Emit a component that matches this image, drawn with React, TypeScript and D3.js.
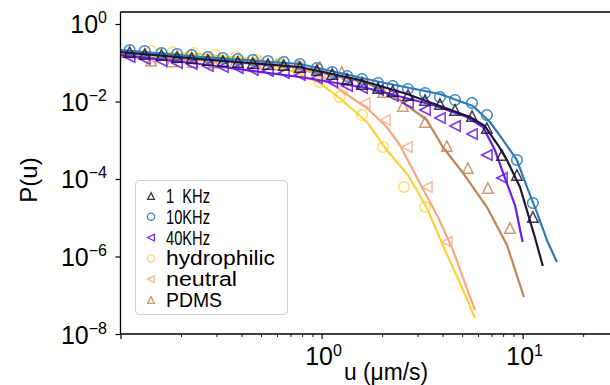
import { useEffect, useRef } from "react";
import * as d3 from "d3";

// ---- data (u in μm/s, P(u)) ----
const labels = ["1  KHz", "10KHz", "40KHz", "hydrophilic", "neutral", "PDMS"];

const u1k = [0.111, 0.132, 0.160, 0.191, 0.226, 0.272, 0.323, 0.383, 0.455, 0.541, 0.649, 0.780, 0.948, 1.13, 1.34, 1.59, 1.91, 2.26, 2.69, 3.27, 3.88, 4.61, 5.60, 6.64, 7.89, 9.37, 11.25];
const p1k = [0.189, 0.168, 0.159, 0.141, 0.133, 0.118, 0.111, 0.105, 0.0985, 0.0928, 0.0875, 0.0777, 0.065, 0.0513, 0.0381, 0.0283, 0.0223, 0.0187, 0.0147, 0.0109, 0.00862, 0.00604, 0.00422, 0.00207, 0.000416, 0.000127, 0.0000105];

const u10k = [0.111, 0.132, 0.160, 0.191, 0.226, 0.272, 0.323, 0.383, 0.455, 0.541, 0.649, 0.780, 0.948, 1.13, 1.34, 1.59, 1.91, 2.26, 2.69, 3.27, 3.88, 4.61, 5.60, 6.64, 9.37, 11.25];
const p10k = [0.213, 0.201, 0.179, 0.168, 0.159, 0.141, 0.133, 0.125, 0.118, 0.111, 0.105, 0.0928, 0.0732, 0.0577, 0.0455, 0.0381, 0.0300, 0.0251, 0.0210, 0.0166, 0.0131, 0.0109, 0.00915, 0.00448, 0.000309, 0.000024];

const u40k = [0.111, 0.132, 0.160, 0.191, 0.226, 0.272, 0.323, 0.383, 0.455, 0.541, 0.649, 0.780, 0.948, 1.13, 1.34, 1.59, 1.91, 2.26, 2.69, 3.27, 3.88, 4.61, 5.60, 6.64, 7.89];
const p40k = [0.141, 0.125, 0.111, 0.0985, 0.0928, 0.0824, 0.0777, 0.0732, 0.065, 0.0612, 0.0544, 0.0483, 0.0404, 0.0319, 0.0251, 0.0223, 0.0198, 0.0139, 0.00915, 0.00604, 0.00375, 0.00233, 0.00145, 0.000416, 0.000106];

const uHydro = [0.143, 0.182, 0.232, 0.295, 0.375, 0.477, 0.606, 0.771, 0.981, 1.23, 1.59, 2.02, 2.57, 3.27];
const pHydro = [0.201, 0.189, 0.179, 0.159, 0.141, 0.118, 0.0928, 0.0577, 0.0319, 0.0131, 0.00448, 0.000669, 0.0000622, 0.0000189];

const uNeutral = [0.142, 0.180, 0.229, 0.291, 0.370, 0.471, 0.599, 0.762, 0.981, 1.26, 1.64, 2.07, 2.66, 3.34, 4.20];
const pNeutral = [0.133, 0.133, 0.125, 0.118, 0.111, 0.105, 0.0928, 0.0777, 0.0483, 0.0223, 0.00915, 0.00333, 0.000669, 0.0000622, 0.00000237];

const uPdms = [0.142, 0.180, 0.229, 0.291, 0.370, 0.471, 0.599, 0.762, 0.981, 1.26, 1.59, 2.02, 2.54, 3.27, 4.20, 5.34, 6.72, 8.65];
const pPdms = [0.112, 0.108, 0.104, 0.101, 0.098, 0.095, 0.090, 0.083, 0.0777, 0.0577, 0.0319, 0.0176, 0.00766, 0.00296, 0.00071, 0.000192, 0.0000586, 0.00000544];

// fitted curves
const fit1kU = [0.100, 0.248, 0.780, 1.55, 2.66, 3.88, 5.47, 6.49, 7.54, 8.35, 9.70, 10.6, 11.5, 12.6];
const fit1kP = [0.189, 0.125, 0.0777, 0.0359, 0.0156, 0.00766, 0.00398, 0.00233, 0.000754, 0.000309, 0.0000622, 0.0000133, 0.00000318, 5.69e-7];

const fit10kU = [0.100, 0.248, 0.780, 1.95, 3.88, 5.66, 6.88, 7.98, 9.37, 10.5, 11.8, 13.2, 14.8];
const fit10kP = [0.213, 0.141, 0.0928, 0.0319, 0.0156, 0.00766, 0.00296, 0.00102, 0.000309, 0.0000622, 0.0000133, 0.00000267, 7.2e-7];

const fit40kU = [0.100, 0.248, 0.780, 1.68, 3.58, 5.28, 6.35, 7.28, 8.17, 9.16, 10.0];
const fit40kP = [0.159, 0.0928, 0.0429, 0.0223, 0.00812, 0.00398, 0.00220, 0.00056, 0.000106, 0.0000213, 0.00000237];

const fitHydroU = [0.100, 0.248, 0.493, 0.780, 0.981, 1.23, 1.68, 2.11, 2.69, 3.34, 4.11, 4.88, 5.79];
const fitHydroP = [0.189, 0.168, 0.118, 0.0513, 0.0300, 0.0123, 0.00296, 0.00056, 0.000127, 0.0000178, 0.00000147, 2.07e-7, 2.59e-8];

const fitNeutralU = [0.100, 0.312, 0.620, 0.981, 1.28, 1.68, 2.11, 2.45, 3.08, 3.79, 4.50, 5.79];
const fitNeutralP = [0.159, 0.133, 0.0985, 0.0483, 0.0176, 0.0068, 0.0022, 0.000754, 0.0000788, 0.0000105, 0.00000147, 4.16e-8];

const fitPdmsU = [0.100, 0.312, 0.780, 1.68, 2.45, 3.34, 4.01, 5.05, 6.64, 8.36, 10.15];
const fitPdmsP = [0.141, 0.111, 0.0732, 0.0300, 0.0109, 0.00333, 0.000669, 0.000143, 0.0000189, 0.00000198, 9.0e-8];

const xMajor = [0.1, 1, 10];
const xMinor = [0.2, 0.3, 0.4, 0.5, 0.6, 0.7, 0.8, 0.9, 2, 3, 4, 5, 6, 7, 8, 9, 20];
const xMajorExp = ["", "0", "1"];
const yMajor = [1, 1e-2, 1e-4, 1e-6, 1e-8];
const yMajorExp = ["0", "\u22122", "\u22124", "\u22126", "\u22128"];

// ---- styles ----
const COLORS = ["#1c1533", "#2b7bba", "#6a1ee6", "#ffd03c", "#f7a882", "#c3834f"];
const SHAPES = ["up", "circle", "left", "circle", "left", "up"];
const MARK_ALPHA = [0.85, 0.9, 0.9, 0.75, 0.75, 0.8];
const LEGEND_TEXT_W = [44, 44, 44, 109, 71, 56];
const FONT = "'Liberation Sans', Arial, sans-serif";

type Shape = string;

function markerPath(shape: Shape, cx: number, cy: number, r: number) {
  if (shape === "up") return `M${cx},${cy - r}L${cx + r},${cy + r}L${cx - r},${cy + r}Z`;
  if (shape === "left") return `M${cx - r},${cy}L${cx + r},${cy - r}L${cx + r},${cy + r}Z`;
  return d3.arc()({ innerRadius: 0, outerRadius: r, startAngle: 0, endAngle: 2 * Math.PI }) as string;
}

export default function App() {
  const svgRef = useRef<SVGSVGElement>(null);

  useEffect(() => {
    const svg = d3.select(svgRef.current);
    svg.selectAll("*").remove();

    const x = d3.scaleLog().domain([0.1, 27.2]).range([120.5, 610]);
    const y = d3.scaleLog().domain([1e-8, 2.04]).range([334, 12]);

    const series = [
      { u: u1k, p: p1k, fu: fit1kU, fp: fit1kP },
      { u: u10k, p: p10k, fu: fit10kU, fp: fit10kP },
      { u: u40k, p: p40k, fu: fit40kU, fp: fit40kP },
      { u: uHydro, p: pHydro, fu: fitHydroU, fp: fitHydroP },
      { u: uNeutral, p: pNeutral, fu: fitNeutralU, fp: fitNeutralP },
      { u: uPdms, p: pPdms, fu: fitPdmsU, fp: fitPdmsP },
    ];

    const line = d3.line<[number, number]>().x(d => x(d[0])).y(d => y(d[1]));
    const plot = svg.append("g");

    // draw back-to-front: PDMS first, 1 KHz last
    [5, 4, 3, 2, 1, 0].forEach(i => {
      const s = series[i];
      const pts = s.fu.map((u, k) => [u, s.fp[k]] as [number, number]);
      plot.append("path")
        .attr("d", line(pts))
        .attr("fill", "none")
        .attr("stroke", COLORS[i])
        .attr("stroke-width", 2.2)
        .attr("stroke-linejoin", "round");

      s.u.forEach((u, k) => {
        const cx = x(u), cy = y(s.p[k]);
        if (SHAPES[i] === "circle") {
          plot.append("circle")
            .attr("cx", cx).attr("cy", cy).attr("r", 5.3)
            .attr("fill", "none").attr("stroke", COLORS[i])
            .attr("stroke-width", 1.5).attr("stroke-opacity", MARK_ALPHA[i]);
        } else {
          plot.append("path")
            .attr("d", markerPath(SHAPES[i], cx, cy, 5.2))
            .attr("fill", "none").attr("stroke", COLORS[i])
            .attr("stroke-width", 1.5).attr("stroke-opacity", MARK_ALPHA[i])
            .attr("stroke-linejoin", "miter");
        }
      });
    });

    // spines
    const x0 = x(0.1);
    svg.append("line").attr("x1", x0).attr("x2", x0).attr("y1", 12).attr("y2", 334)
      .attr("stroke", "#000").attr("stroke-width", 1.3);
    svg.append("line").attr("x1", x0).attr("x2", 610).attr("y1", 12).attr("y2", 12)
      .attr("stroke", "#000").attr("stroke-width", 1.3);
    svg.append("line").attr("x1", x0).attr("x2", 610).attr("y1", 334).attr("y2", 334)
      .attr("stroke", "#000").attr("stroke-width", 1.3);

    // x ticks
    const xAx = svg.append("g").attr("transform", "translate(0,334)");
    xAx.call(d3.axisBottom(x).tickValues(xMajor).tickSize(5).tickFormat(() => ""))
      .call(a => a.select(".domain").remove())
      .call(a => a.selectAll(".tick line").attr("stroke", "#000").attr("stroke-width", 1.2));
    const xAxMin = svg.append("g").attr("transform", "translate(0,334)");
    xAxMin.call(d3.axisBottom(x).tickValues(xMinor).tickSize(3).tickFormat(() => ""))
      .call(a => a.select(".domain").remove())
      .call(a => a.selectAll(".tick line").attr("stroke", "#000").attr("stroke-width", 0.9));

    xMajor.forEach((v, i) => {
      if (!xMajorExp[i]) return;
      const t = svg.append("text")
        .attr("x", x(v) + 2).attr("y", 365)
        .attr("text-anchor", "middle")
        .attr("font-family", FONT).attr("font-size", 25).attr("fill", "#000");
      t.append("tspan").text("10");
      t.append("tspan").attr("dy", -9).attr("font-size", 16).text(xMajorExp[i]);
    });

    // y ticks
    const yAx = svg.append("g").attr("transform", `translate(${x0},0)`);
    yAx.call(d3.axisLeft(y).tickValues(yMajor).tickSize(5).tickFormat(() => ""))
      .call(a => a.select(".domain").remove())
      .call(a => a.selectAll(".tick line").attr("stroke", "#000").attr("stroke-width", 1.2));

    yMajor.forEach((v, i) => {
      const t = svg.append("text")
        .attr("x", 107).attr("y", y(v) + 9.5)
        .attr("text-anchor", "end")
        .attr("font-family", FONT).attr("font-size", 25).attr("fill", "#000");
      t.append("tspan").text("10");
      t.append("tspan").attr("dy", -10).attr("font-size", 16).text(yMajorExp[i]);
    });

    // axis titles
    svg.append("text")
      .attr("transform", "translate(37,180) rotate(-90)")
      .attr("text-anchor", "middle")
      .attr("font-family", FONT).attr("font-size", 24).attr("fill", "#000")
      .text("P(u)");
    svg.append("text")
      .attr("x", 386).attr("y", 380)
      .attr("text-anchor", "middle")
      .attr("font-family", FONT).attr("font-size", 23).attr("fill", "#000")
      .attr("textLength", 84).attr("lengthAdjust", "spacingAndGlyphs")
      .text("u (\u03bcm/s)");

    // legend
    const lg = svg.append("g");
    lg.append("rect")
      .attr("x", 135.5).attr("y", 180.5).attr("width", 152).attr("height", 134)
      .attr("rx", 4).attr("fill", "#fff").attr("fill-opacity", 0.8)
      .attr("stroke", "#cccccc").attr("stroke-width", 1);
    labels.forEach((name, i) => {
      const cy = 196 + i * 20.8;
      if (SHAPES[i] === "circle") {
        lg.append("circle").attr("cx", 151).attr("cy", cy).attr("r", 3.6)
          .attr("fill", "none").attr("stroke", COLORS[i]).attr("stroke-width", 1.3)
          .attr("stroke-opacity", MARK_ALPHA[i]);
      } else {
        lg.append("path").attr("d", markerPath(SHAPES[i], 151, cy, 3.4))
          .attr("fill", "none").attr("stroke", COLORS[i]).attr("stroke-width", 1.3)
          .attr("stroke-opacity", MARK_ALPHA[i]);
      }
      lg.append("text")
        .attr("x", 166).attr("y", cy + 7)
        .attr("font-family", FONT).attr("font-size", 20).attr("fill", "#000")
        .attr("textLength", LEGEND_TEXT_W[i])
        .attr("lengthAdjust", "spacingAndGlyphs")
        .style("white-space", "pre")
        .text(name);
    });
  }, []);

  return (
    <svg
      ref={svgRef}
      width={610}
      height={385}
      style={{ position: "absolute", left: 0, top: 0, background: "#fff" }}
    />
  );
}
